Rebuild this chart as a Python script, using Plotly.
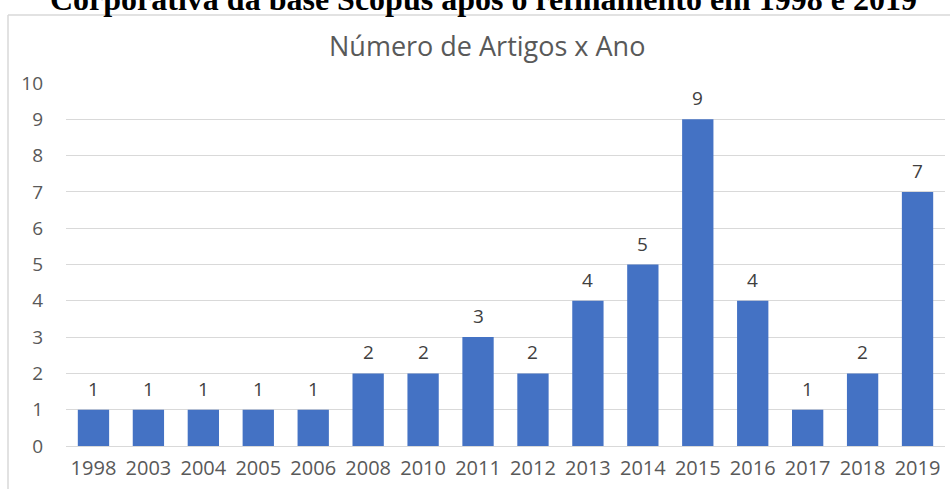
import plotly.graph_objects as go

anos = ["1998", "2003", "2004", "2005", "2006", "2008", "2010", "2011",
        "2012", "2013", "2014", "2015", "2016", "2017", "2018", "2019"]
artigos = [1, 1, 1, 1, 1, 2, 2, 3, 2, 4, 5, 9, 4, 1, 2, 7]
y_ticks = list(range(0, 11))

W, H = 950, 489
ml, mr, mt, mb = 66, 5, 83, 43
pw, ph = W - ml - mr, H - mt - mb

def px_x(x):
    return (x - ml) / pw

def px_y(y):
    return (H - mb - y) / ph

fig = go.Figure()
fig.add_trace(go.Bar(
    x=anos, y=artigos,
    marker=dict(color="#4472C4", line=dict(width=0)),
    cliponaxis=False,
))

for i, v in enumerate(artigos):
    fig.add_annotation(
        x=i, y=v, text=str(v), showarrow=False,
        xanchor="center", yanchor="bottom", yshift=6,
        font=dict(family="Open Sans", size=19, color="#404040"),
    )

fig.update_layout(
    width=W, height=H,
    margin=dict(l=ml, r=mr, t=mt, b=mb),
    paper_bgcolor="white", plot_bgcolor="white",
    bargap=0.43,
    showlegend=False,
    font=dict(family="Open Sans", color="#595959"),
    xaxis=dict(type="category", showgrid=False, showline=False, ticks="",
               range=[-0.5, len(anos) - 0.5], ticklabelstandoff=8,
               tickfont=dict(family="Open Sans", size=20, color="#595959")),
    yaxis=dict(range=[0, 10], tickvals=y_ticks, showgrid=True,
               gridcolor="#d9d9d9", gridwidth=1, zeroline=True,
               zerolinecolor="#d9d9d9", zerolinewidth=1, showline=False,
               ticks="", ticklabelstandoff=22,
               tickfont=dict(family="Open Sans", size=19, color="#595959")),
)

# chart title
fig.add_annotation(
    text="Número de Artigos x Ano", xref="paper", yref="paper",
    x=px_x(487), y=px_y(46), xanchor="center", yanchor="middle",
    showarrow=False,
    font=dict(family="Open Sans", size=27, color="#595959"),
)

# clipped document caption at the top
fig.add_annotation(
    text="<b>Corporativa da base Scopus após o refinamento em 1998 e 2019</b>",
    xref="paper", yref="paper",
    x=px_x(483), y=px_y(19), xanchor="center", yanchor="bottom",
    showarrow=False,
    font=dict(family="Liberation Serif", size=32, color="black"),
)

# chart border
fig.add_shape(type="line", xref="paper", yref="paper",
              x0=px_x(8), x1=px_x(8), y0=px_y(15), y1=px_y(H + 5),
              line=dict(color="#d9d9d9", width=1.5))
fig.add_shape(type="line", xref="paper", yref="paper",
              x0=px_x(8), x1=px_x(W + 5), y0=px_y(15), y1=px_y(15),
              line=dict(color="#d9d9d9", width=1.5))

fig.write_html("out.html")
